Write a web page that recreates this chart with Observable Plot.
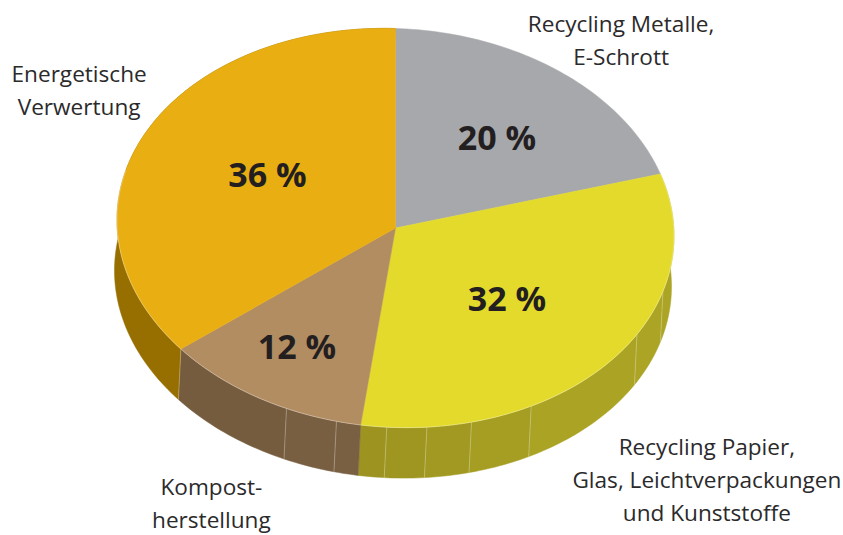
<!DOCTYPE html>
<html lang="de">
<head>
<meta charset="utf-8">
<script src="https://cdn.jsdelivr.net/npm/d3@7"></script>
<script src="https://cdn.jsdelivr.net/npm/@observablehq/plot@0.6"></script>
<style>
  html, body { margin: 0; padding: 0; background: #fff; }
  svg { display: block; }
</style>
</head>
<body>
<div id="chart"></div>
<script>
// Waste streams, clockwise from twelve o'clock
const categories = [
  "Recycling Metalle,\nE-Schrott",
  "Recycling Papier,\nGlas, Leichtverpackungen\nund Kunststoffe",
  "Kompost-\nherstellung",
  "Energetische\nVerwertung"
];
const shares = [20, 32, 12, 36];
const topColors = ["#a7a8ab", "#e3da2b", "#b38d62", "#e9ae12"];

// Side wall: panels given as cumulative percent, each with its shade
const wallStops = [20, 29.5, 33.3, 41.9, 45.6, 48.2, 50.5, 52, 53.4, 56.4, 64, 100];
const wallColors = ["#aba424", "#aba424", "#aaa324", "#a59e22", "#a19921", "#9e9620", "#9c9320",
                    "#7a6042", "#795f41", "#755c3e", "#976f00"];
const seamStops = [29.5, 33.3, 41.9, 45.6, 48.2, 50.5, 53.4, 56.4, 64];

// Label anchors in the disc's unit coordinates
const valueLabelX = [0.364, 0.400, -0.354, -0.460];
const valueLabelY = [-0.444, 0.363, 0.604, -0.258];
const nameLabelX = [0.810, 1.118, -0.661, -1.136];
const nameLabelY = [-0.955, 1.250, 1.366, -0.704];

// The ellipse leans slightly, right side lower than the left
const lean = 0.04;
const depthX = -0.009;
const depthY = 0.253;

function rimPoint(percent) {
  const a = (percent / 100) * 2 * Math.PI;
  return [Math.sin(a), -Math.cos(a) + lean * Math.sin(a)];
}

function arc(from, to) {
  const n = Math.max(2, Math.ceil((to - from) * 3));
  return d3.range(n + 1).map((i) => rimPoint(from + ((to - from) * i) / n));
}

const starts = d3.cumsum([0, ...shares]);

const wallPanels = wallColors.flatMap((color, k) => {
  const edge = arc(wallStops[k], wallStops[k + 1]);
  const lower = edge.slice().reverse().map(([x, y]) => [x + depthX, y + depthY]);
  return [...edge, ...lower, edge[0]].map(([x, y]) => ({x, y, panel: k, color}));
});

const topSlices = shares.flatMap((_, k) => {
  const ring = [[0, 0], ...arc(starts[k], starts[k + 1]), [0, 0]];
  return ring.map(([x, y]) => ({x, y, slice: k, color: topColors[k]}));
});

const seams = seamStops.flatMap((p, k) => {
  const [x, y] = rimPoint(p);
  return [{x, y, seam: k}, {x: x + depthX, y: y + depthY, seam: k}];
});

const rim = arc(20, 79).map(([x, y]) => ({x, y}));

const valueLabels = shares.map((s, k) => ({text: `${s} %`, x: valueLabelX[k], y: valueLabelY[k]}));
const nameLabels = categories.map((text, k) => ({text, x: nameLabelX[k], y: nameLabelY[k]}));

const chart = Plot.plot({
  width: 843,
  height: 535,
  margin: 0,
  style: {background: "#fff", fontFamily: "'Open Sans', sans-serif"},
  x: {domain: [-1, 1], range: [116.5, 673.5], axis: null},
  y: {domain: [-1, 1], range: [28, 427], axis: null},
  marks: [
    Plot.line(wallPanels, {x: "x", y: "y", z: "panel", fill: "color", stroke: "color", strokeWidth: 0.5, curve: "linear"}),
    Plot.line(seams, {x: "x", y: "y", z: "seam", stroke: "#fff", strokeOpacity: 0.28, strokeWidth: 1}),
    Plot.line(topSlices, {x: "x", y: "y", z: "slice", fill: "color", stroke: "color", strokeWidth: 0.5, curve: "linear"}),
    Plot.line(rim, {x: "x", y: "y", stroke: "#fff", strokeOpacity: 0.4, strokeWidth: 0.8}),
    Plot.text(valueLabels, {
      x: "x", y: "y", text: "text",
      fontSize: 34, fontWeight: 700, fill: "#231f20"
    }),
    Plot.text(nameLabels, {
      x: "x", y: "y", text: "text",
      fontSize: 22.6, lineHeight: 1.47, fill: "#2b2a2b"
    })
  ]
});

document.getElementById("chart").append(chart);
</script>
</body>
</html>
